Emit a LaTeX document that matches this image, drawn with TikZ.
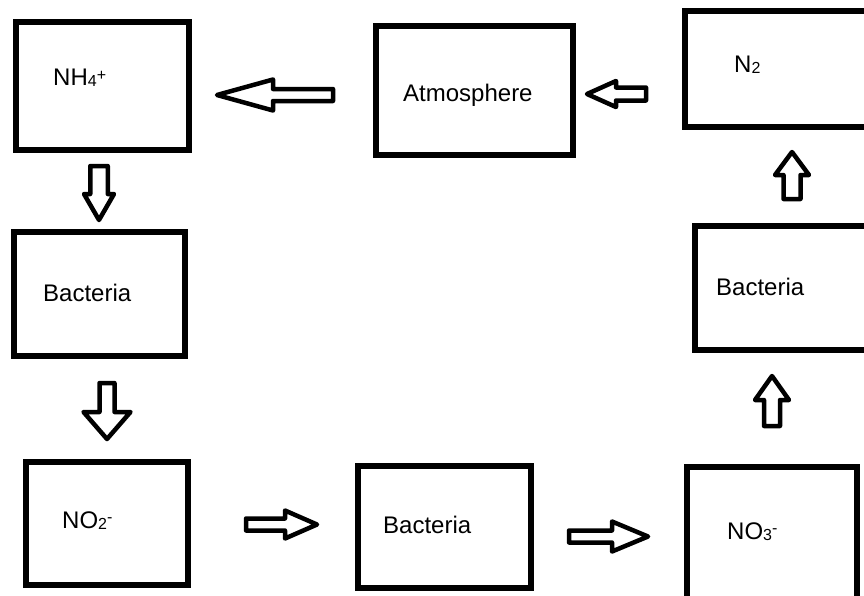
\documentclass[tikz,border=0pt]{standalone}
\usepackage{fontspec}
\setmainfont{Liberation Sans}
\usetikzlibrary{calc}

\tikzset{
  stagebox/.style={draw=black, line width=6pt, rectangle, inner sep=0pt, outer sep=0pt},
  stagelabel/.style={anchor=base west, inner sep=0pt, font=\fontsize{24}{28}\selectfont},
  flowarrow/.style={draw=black, fill=white, line width=4.5pt, line join=round}
}

% small index figures set close to the baseline, charges raised a little
\newcommand\ionidx[1]{\raisebox{-1.5pt}{\fontsize{16}{16}\selectfont #1}}
\newcommand\ioncharge[2]{\raisebox{#1}{\fontsize{16}{16}\selectfont #2}}

% hollow block arrow: tail, tip, head length, shaft half width, head half width
\newcommand\blockarrow[5]{%
  \coordinate (ba-h) at ($(#2)!#3!(#1)$);
  \draw[flowarrow]
    ($(#1)!#4!90:(#2)$) -- ($(ba-h)!#4!90:(#2)$) -- ($(ba-h)!#5!90:(#2)$) --
    (#2) --
    ($(ba-h)!#5!-90:(#2)$) -- ($(ba-h)!#4!-90:(#2)$) -- ($(#1)!#4!-90:(#2)$) -- cycle;
}

\begin{document}
\begin{tikzpicture}[x=1pt, y=-1pt]
  \useasboundingbox (0,0) rectangle (864,595);
  \clip (0,0) rectangle (864,595);

  % stage boxes
  \node[stagebox, minimum width=173pt, minimum height=128pt] (nh4)  at (102.5,86)  {};
  \node[stagebox, minimum width=197pt, minimum height=129pt] (atm)  at (474.5,90.5) {};
  \node[stagebox, minimum width=195pt, minimum height=116pt] (n2)   at (782.5,69)  {};
  \node[stagebox, minimum width=171pt, minimum height=124pt] (bacL) at (99.5,294)  {};
  \node[stagebox, minimum width=185pt, minimum height=124pt] (bacR) at (787.5,288) {};
  \node[stagebox, minimum width=162pt, minimum height=123pt] (no2)  at (107,523.5) {};
  \node[stagebox, minimum width=173pt, minimum height=122pt] (bacB) at (444.5,527) {};
  \node[stagebox, minimum width=170pt, minimum height=133pt] (no3)  at (772,533.5) {};

  % labels
  \node[stagelabel] (t-nh4)  at (53,85)   {NH\ionidx{4}\ioncharge{4.5pt}{+}};
  \node[stagelabel] (t-atm)  at (403,101) {Atmosphere};
  \node[stagelabel] (t-n2)   at (734,72)  {N\ionidx{2}};
  \node[stagelabel] (t-bacL) at (43,301)  {Bacteria};
  \node[stagelabel] (t-bacR) at (716,295) {Bacteria};
  \node[stagelabel] (t-no2)  at (62,528)  {NO\ionidx{2}\ioncharge{6pt}{-}};
  \node[stagelabel] (t-bacB) at (383,533) {Bacteria};
  \node[stagelabel] (t-no3)  at (727,539) {NO\ionidx{3}\ioncharge{6pt}{-}};

  % arrow ends
  \coordinate (a1s) at (333,95);    \coordinate (a1e) at (217,95);
  \coordinate (a2s) at (646,94);    \coordinate (a2e) at (587,94);
  \coordinate (a3s) at (99,166);    \coordinate (a3e) at (99,220);
  \coordinate (a4s) at (107,383);   \coordinate (a4e) at (107,439);
  \coordinate (a5s) at (246,524.5); \coordinate (a5e) at (317,524.5);
  \coordinate (a6s) at (569,536.5); \coordinate (a6e) at (648,536.5);
  \coordinate (a7s) at (772,426);   \coordinate (a7e) at (772,376);
  \coordinate (a8s) at (792,199);   \coordinate (a8e) at (792,152);

  % cycle arrows
  \blockarrow{a1s}{a1e}{56pt}{6pt}{15.5pt}
  \blockarrow{a2s}{a2e}{29pt}{6.5pt}{13pt}
  \blockarrow{a3s}{a3e}{26pt}{8.75pt}{15pt}
  \blockarrow{a4s}{a4e}{27pt}{7.5pt}{23.5pt}
  \blockarrow{a5s}{a5e}{32pt}{6pt}{14pt}
  \blockarrow{a6s}{a6e}{36pt}{6pt}{15pt}
  \blockarrow{a7s}{a7e}{24pt}{8pt}{17pt}
  \blockarrow{a8s}{a8e}{23pt}{8.5pt}{17pt}
\end{tikzpicture}
\end{document}
